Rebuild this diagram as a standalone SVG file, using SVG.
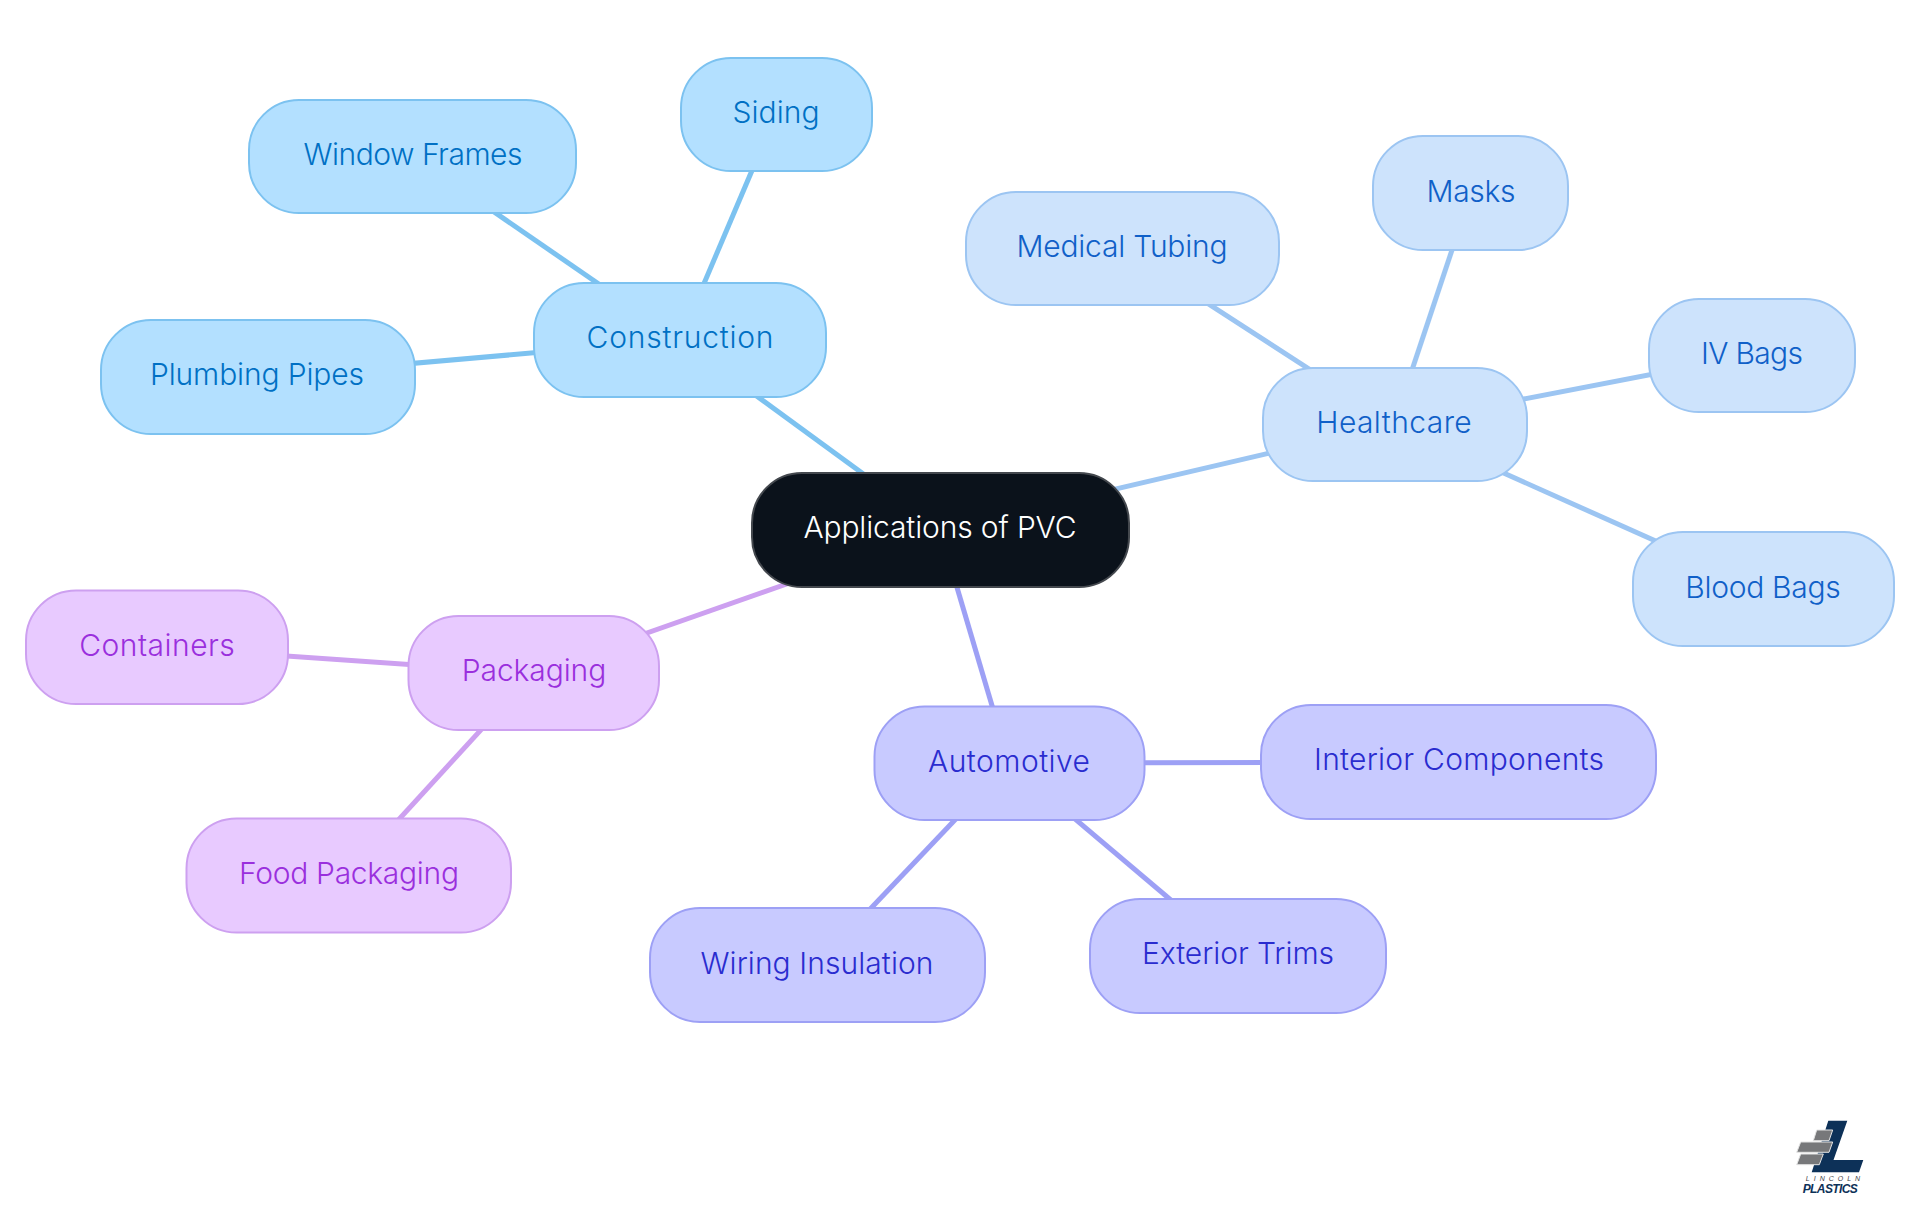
<svg xmlns="http://www.w3.org/2000/svg" width="1920" height="1215" viewBox="0 0 1920 1215">
<style>
text{font-family:"Inter","Noto Sans",sans-serif;font-size:30px;font-weight:300;text-anchor:middle}
rect{stroke-width:2}
line{stroke-width:5}
.c rect{fill:#b3e0ff;stroke:#7cc2f0}.c text{fill:#0070c4}
.h rect{fill:#cde3fc;stroke:#9cc5f2}.h text{fill:#1060c8}
.a rect{fill:#c8caff;stroke:#9da0f5}.a text{fill:#2a2ccf}
.p rect{fill:#e8caff;stroke:#cda0f0}.p text{fill:#9a2fdd}
.lc{stroke:#7cc2f0}.lh{stroke:#9cc5f2}.la{stroke:#9da0f5}.lp{stroke:#cda0f0}
</style>
<rect width="1920" height="1215" fill="#fff" style="stroke:none"/>
<g id="connectors">
<line class="lc" x1="940" y1="530" x2="680" y2="340"/>
<line class="lc" x1="680" y1="340" x2="776" y2="114"/>
<line class="lc" x1="680" y1="340" x2="413" y2="156"/>
<line class="lc" x1="680" y1="340" x2="257" y2="377"/>
<line class="lh" x1="940" y1="530" x2="1394" y2="424"/>
<line class="lh" x1="1394" y1="424" x2="1122" y2="248"/>
<line class="lh" x1="1394" y1="424" x2="1471" y2="193"/>
<line class="lh" x1="1394" y1="424" x2="1752" y2="355"/>
<line class="lh" x1="1394" y1="424" x2="1763" y2="589"/>
<line class="la" x1="940" y1="530" x2="1009" y2="763"/>
<line class="la" x1="1009" y1="763" x2="1459" y2="762"/>
<line class="la" x1="1009" y1="763" x2="1237" y2="956"/>
<line class="la" x1="1009" y1="763" x2="817" y2="965"/>
<line class="lp" x1="940" y1="530" x2="533" y2="673"/>
<line class="lp" x1="533" y1="673" x2="157" y2="647"/>
<line class="lp" x1="533" y1="673" x2="348" y2="875"/>
</g>
<g id="root"><rect x="752" y="473" width="377" height="114" rx="50" fill="#0b121b" stroke="#44484e"/><text x="940" y="538" fill="#fff" textLength="273">Applications of PVC</text></g>
<g id="construction" class="c"><rect x="534" y="283" width="292" height="114" rx="50"/><text x="680" y="348" textLength="187">Construction</text></g>
<g id="siding" class="c"><rect x="681" y="58" width="191" height="113" rx="50"/><text x="776" y="123" textLength="87">Siding</text></g>
<g id="window-frames" class="c"><rect x="249" y="100" width="327" height="113" rx="50"/><text x="413" y="165" textLength="219">Window Frames</text></g>
<g id="plumbing-pipes" class="c"><rect x="101" y="320" width="314" height="114" rx="50"/><text x="257" y="385" textLength="214">Plumbing Pipes</text></g>
<g id="healthcare" class="h"><rect x="1263" y="368" width="264" height="113" rx="50"/><text x="1394" y="433" textLength="155.500">Healthcare</text></g>
<g id="medical-tubing" class="h"><rect x="966" y="192" width="313" height="113" rx="50"/><text x="1122" y="257" textLength="211">Medical Tubing</text></g>
<g id="masks" class="h"><rect x="1373" y="136" width="195" height="114" rx="50"/><text x="1471" y="202" textLength="89">Masks</text></g>
<g id="iv-bags" class="h"><rect x="1649" y="299" width="206" height="113" rx="50"/><text x="1752" y="364" textLength="102">IV Bags</text></g>
<g id="blood-bags" class="h"><rect x="1633" y="532" width="261" height="114" rx="50"/><text x="1763" y="598" textLength="155.500">Blood Bags</text></g>
<g id="automotive" class="a"><rect x="874.500" y="706.500" width="270" height="113.500" rx="50"/><text x="1009" y="772" textLength="162">Automotive</text></g>
<g id="interior-components" class="a"><rect x="1261" y="705" width="395" height="114" rx="50"/><text x="1459" y="770" textLength="290">Interior Components</text></g>
<g id="exterior-trims" class="a"><rect x="1090" y="899" width="296" height="114" rx="50"/><text x="1238" y="964" textLength="192">Exterior Trims</text></g>
<g id="wiring-insulation" class="a"><rect x="650" y="908" width="335" height="114" rx="50"/><text x="817" y="974" textLength="233">Wiring Insulation</text></g>
<g id="packaging" class="p"><rect x="408.500" y="616" width="250.500" height="114" rx="50"/><text x="534" y="681" textLength="144.500">Packaging</text></g>
<g id="containers" class="p"><rect x="26" y="590.500" width="262" height="113.500" rx="50"/><text x="157" y="656" textLength="155.500">Containers</text></g>
<g id="food-packaging" class="p"><rect x="186.500" y="818.500" width="324.500" height="114" rx="50"/><text x="349" y="884" textLength="220">Food Packaging</text></g>
<g id="logo">
<polygon points="1828.3,1120.7 1847.3,1120.7 1833.5,1160 1863.3,1160 1859,1172.3 1811.7,1172.3" fill="#0d3158"/>
<g fill="#77787a" stroke="#e4e4e4" stroke-width="1">
<polygon points="1816.7,1130 1832.7,1130 1829,1140.7 1813.3,1140.7"/>
<polygon points="1800.7,1142 1832.7,1142 1829,1152.3 1796.7,1152.3"/>
<polygon points="1800.7,1154 1823.3,1154 1819.3,1164.7 1796.7,1164.7"/>
</g>
<text x="1835" y="1181" style="font-family:'Liberation Sans',sans-serif;font-size:7px;font-weight:400;font-style:italic;letter-spacing:4px;fill:#3f4246">LINCOLN</text>
<text x="1830" y="1192.5" style="font-family:'Liberation Sans',sans-serif;font-size:12px;font-weight:700;font-style:italic;letter-spacing:-0.6px;fill:#0d3158">PLASTICS</text>
</g>
</svg>
